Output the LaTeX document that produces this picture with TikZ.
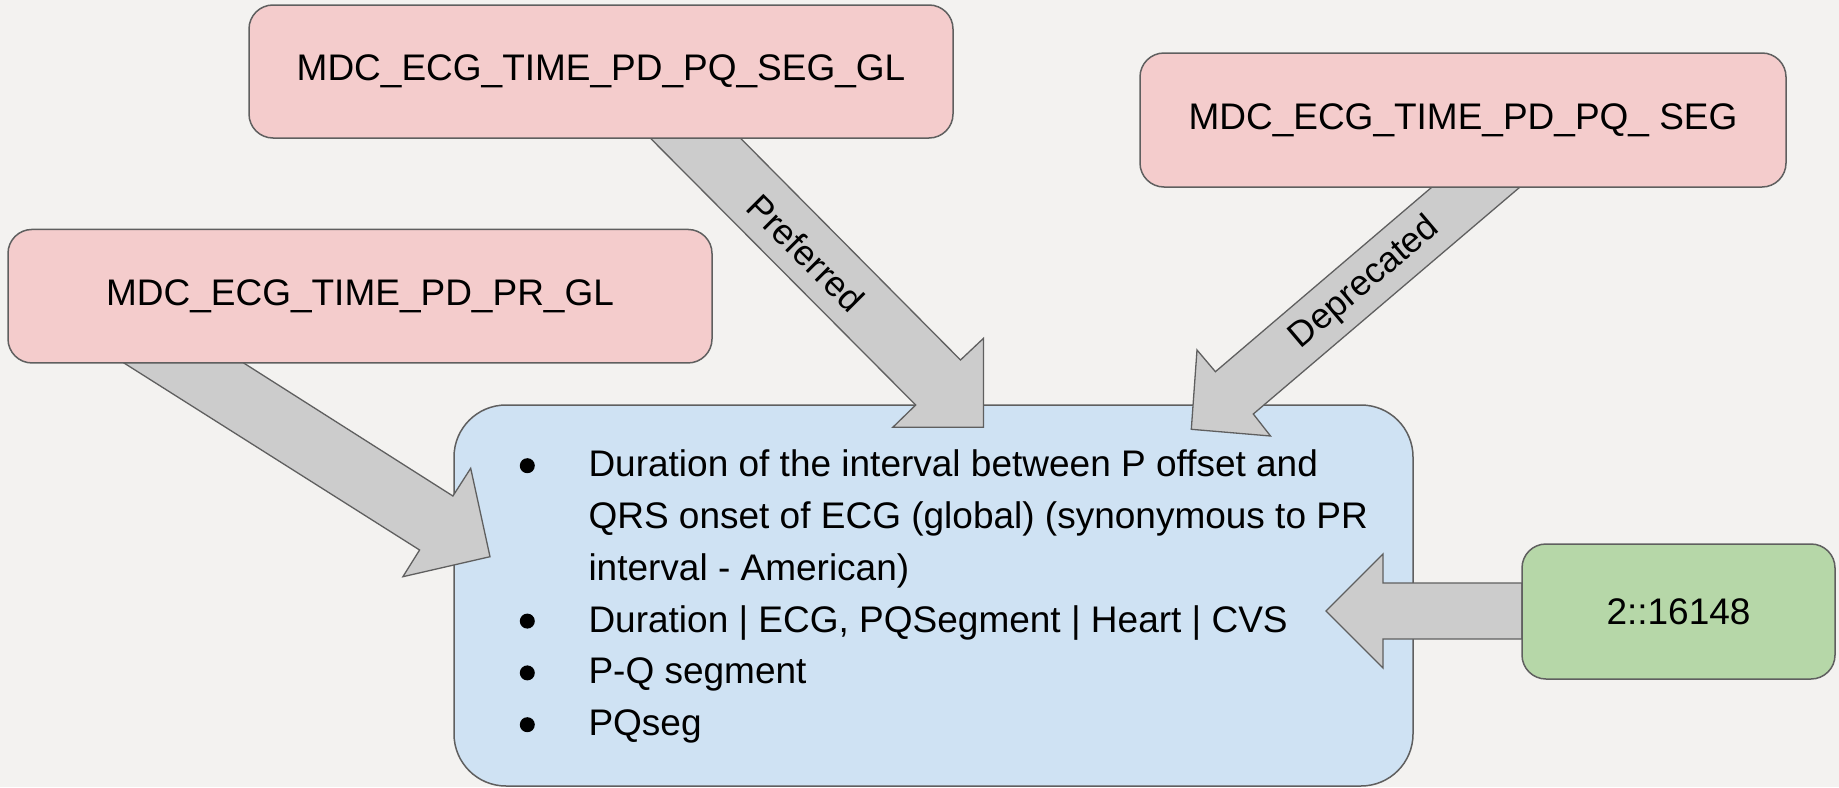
\documentclass[tikz,border=0pt]{standalone}
\usepackage{fontspec}
\setmainfont{Liberation Sans}
\definecolor{bgcol}{RGB}{243,242,240}
\definecolor{edgecol}{RGB}{95,95,95}
\definecolor{pinkfill}{RGB}{244,204,204}
\definecolor{bluefill}{RGB}{207,226,243}
\definecolor{greenfill}{RGB}{182,215,168}
\definecolor{arrowfill}{RGB}{204,204,204}
\begin{document}
\begin{tikzpicture}[x=1pt,y=-1pt,
  box/.style={draw=edgecol, line width=1.5pt, inner sep=0pt, align=center,
    font=\fontsize{37}{44}\selectfont},
  pinkbox/.style={box, fill=pinkfill, rounded corners=24pt},
  greenbox/.style={box, fill=greenfill, rounded corners=24pt},
  bluebox/.style={box, fill=bluefill, rounded corners=52pt},
  blockarrow/.style={draw=edgecol, line width=1.3pt, fill=arrowfill, line join=miter},
  bodytext/.style={inner sep=0pt, anchor=base west, font=\fontsize{37}{44}\selectfont},
  arrowlabel/.style={inner sep=0pt, font=\fontsize{35.5}{40}\selectfont},
  bullet/.style={fill=black}
]
% background
\fill[bgcol] (0,0) rectangle (1839,787);
\useasboundingbox (0,0) rectangle (1839,787);

% central description box
\node[bluebox, minimum width=959pt, minimum height=381pt] (desc) at (933.5,595.5) {};

% list text
\node[bodytext] (l1) at (588.3,476.7) {Duration of the interval between P offset and};
\node[bodytext] (l2) at (588.3,528.5) {QRS onset of ECG (global) (synonymous to PR};
\node[bodytext] (l3) at (588.3,580.3) {interval - American)};
\node[bodytext] (l4) at (588.3,632.1) {Duration | ECG, PQSegment | Heart | CVS};
\node[bodytext] (l5) at (588.3,683.9) {P-Q segment};
\node[bodytext] (l6) at (588.3,735.7) {PQseg};
\fill[bullet] (527.3,465.7) circle (7.5pt);
\fill[bullet] (527.3,621.1) circle (7.5pt);
\fill[bullet] (527.3,672.9) circle (7.5pt);
\fill[bullet] (527.3,724.7) circle (7.5pt);

% block arrows
\draw[blockarrow] (650.5,138.3) -- (915.7,405) -- (892.8,427.3) -- (983.5,427.3)
  -- (983.5,338.3) -- (960.5,360) -- (740.6,138.3) -- cycle;
\draw[blockarrow] (1432,187) -- (1215.4,371.7) -- (1197,350) -- (1191.3,429.3)
  -- (1270.5,436) -- (1253.3,414) -- (1520,187) -- cycle;
\draw[blockarrow] (123.2,362.5) -- (419.6,550) -- (402.9,576.7) -- (490,556.7)
  -- (470.7,468.3) -- (452.9,496) -- (242.9,362.5) -- cycle;
\draw[blockarrow] (1522,583) -- (1383,583) -- (1383,554) -- (1326,611)
  -- (1383,668) -- (1383,639) -- (1522,639) -- cycle;

% arrow labels
\node[arrowlabel, rotate=-45] (pref) at (806,253) {Preferred};
\node[arrowlabel, rotate=40.3] (depr) at (1365,283) {Deprecated};

% code boxes
\node[pinkbox, minimum width=704pt, minimum height=133pt] (seggl) at (601,71.5) {MDC\_ECG\_TIME\_PD\_PQ\_SEG\_GL};
\node[pinkbox, minimum width=646pt, minimum height=134pt] (seg) at (1463,120) {MDC\_ECG\_TIME\_PD\_PQ\_ SEG};
\node[pinkbox, minimum width=704pt, minimum height=133.5pt] (prgl) at (360,296.2) {MDC\_ECG\_TIME\_PD\_PR\_GL};
\node[greenbox, minimum width=313pt, minimum height=135pt] (code) at (1678.5,611.5) {2::16148};
\end{tikzpicture}
\end{document}
